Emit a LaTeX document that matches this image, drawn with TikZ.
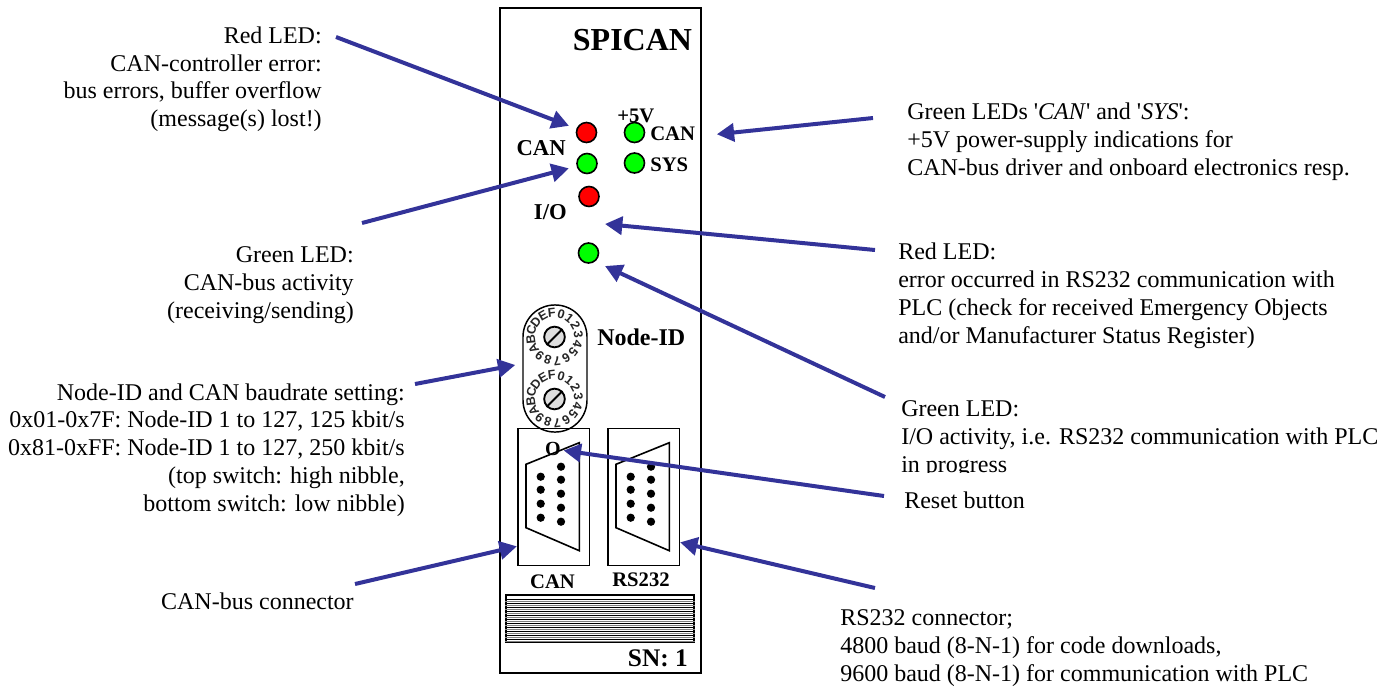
\documentclass[tikz,border=0pt]{standalone}
\usepackage{fontspec}
\setmainfont{Liberation Serif}[Ligatures=TeXOff]
\newfontfamily\dialfont{Liberation Sans}
\usetikzlibrary{arrows.meta}
\definecolor{arrowblue}{HTML}{333399}
\tikzstyle{note} = [inner sep=0pt, font=\fontsize{18}{20.8}\selectfont]
\tikzstyle{noteleft} = [note, anchor=base east, align=right]
\tikzstyle{noteright} = [note, anchor=base west, align=left]
\tikzstyle{label} = [inner sep=0pt, font=\fontsize{15.5}{18}\selectfont\bfseries]
\tikzstyle{led} = [circle, draw=black, line width=1.2pt, minimum size=15pt, inner sep=0pt]
\tikzstyle{screw} = [circle, draw=black, line width=1.4pt, fill=black!13, minimum size=15.5pt, inner sep=0pt]
\tikzstyle{connbox} = [rectangle, draw=black, line width=1.2pt, minimum width=53.7pt, minimum height=103pt, inner sep=0pt]
\tikzstyle{shell} = [line width=1.2pt, line join=miter]
\tikzstyle{pin} = [circle, fill=black, minimum size=6.2pt, inner sep=0pt]
\tikzstyle{dialchar} = [inner sep=0pt, font=\fontsize{9.5}{9.5}\dialfont\bfseries, text=black!85]
\tikzstyle{arrow} = [draw=arrowblue, line width=3pt, -{Triangle[length=13pt,width=13.5pt]}]

\begin{document}
\begin{tikzpicture}[x=0.75pt, y=-0.75pt]
    \useasboundingbox (0,0) rectangle (1397,687);
    \node(module)[rectangle, draw=black, line width=1.5pt, minimum width=150.4pt, minimum height=498.3pt, inner sep=0pt] at (600.3,340.5) {};
    \node(spican)[label, font=\fontsize{24}{24}\selectfont\bfseries] at (632.5,40) {SPICAN};
    \node(serial)[label, font=\fontsize{19}{19}\selectfont\bfseries, anchor=base east] at (688,666) {SN: 1};
    %
    \node(ledcanred)[led, fill=red] at (586.5,132.5) {};
    \node(ledcangreen)[led, fill=green] at (587,163.5) {};
    \node(ledioread)[led, fill=red] at (589,196.5) {};
    \node(ledioact)[led, fill=green] at (588.5,253) {};
    \node(ledpowcan)[led, fill=green] at (634.5,132.5) {};
    \node(ledpowsys)[led, fill=green] at (634.5,163) {};
    \node(powerlabel)[label, anchor=base west] at (617,122) {+5V};
    \node(canpow)[label, anchor=base west] at (650,140) {CAN};
    \node(syspow)[label, anchor=base west] at (650,171) {SYS};
    \node(canlabel)[label, font=\fontsize{17}{17}\selectfont\bfseries, anchor=base east] at (566,155) {CAN};
    \node(iolabel)[label, font=\fontsize{17}{17}\selectfont\bfseries, anchor=base east] at (567,219) {I/O};
    %
    \node(capsule)[rectangle, draw=black, line width=1.1pt, rounded corners=23.9pt, minimum width=48pt, minimum height=95.3pt, inner sep=0pt] at (555,368.5) {};
    \foreach \name/\y in {dialtop/337, dialbot/399} {
        \node(\name)[screw] at (554.5,\y) {};
        \draw [line width=1.4pt] (\name.225)--(\name.45);
        \foreach \ch [count=\i from 0] in {0,1,2,3,4,5,6,7,8,9,A,B,C,D,E,F} {
            \pgfmathsetmacro{\ang}{16+22.5*\i}
            \node(\name\i)[dialchar, rotate=-\ang] at ([shift={(90-\ang:18pt)}]\name.center) {\ch};
        }
    }
    \node(nodeid)[label, font=\fontsize{18}{18}\selectfont\bfseries, anchor=base west] at (597,345) {Node-ID};
    %
    \node(canbox)[connbox] at (553.5,497) {};
    \node(rsbox)[connbox] at (643.5,497) {};
    \draw [shell] (526,464.3)--(579.3,442.7)--(579.3,550.7)--(526,527.7)--cycle;
    \draw [shell] (616,464.3)--(669.3,442.7)--(669.3,550.7)--(616,527.7)--cycle;
    \foreach \x/\name in {0/can, 90/rs} {
        \foreach \y [count=\i] in {476.7,489.7,503.7,517.7}
            \node(\name left\i)[pin] at (540.7+\x,\y) {};
        \foreach \y [count=\i] in {466.7,479.7,493.7,507.7,521.7}
            \node(\name right\i)[pin] at (561+\x,\y) {};
    }
    \node(reset)[label, font=\fontsize{15}{15}\selectfont\bfseries] at (553,449) {O};
    \node(canname)[label, anchor=base] at (552.5,588) {CAN};
    \node(rsname)[label, anchor=base] at (641,586) {RS232};
    %
    \node(vent)[rectangle, draw=black, line width=1.6pt, fill=white, minimum width=141.5pt, minimum height=35pt, inner sep=0pt] at (600,618.3) {};
    \foreach \y in {599.5,603.5,...,639.5} {
        \draw [line width=1pt] (vent.west |- 0,\y)--(vent.east |- 0,\y);
        \draw [line width=0.9pt, black!50] (vent.west |- 0,\y+2)--(vent.east |- 0,\y+2);
    }
    %
    \node(redcannote)[noteleft] at (322,126.5) {Red LED:\\CAN-controller error:\\bus errors, buffer overflow\\(message(s) lost!)};
    \node(greencannote)[noteleft] at (354,318) {Green LED:\\CAN-bus activity\\(receiving/sending)};
    \node(dialnote)[noteleft] at (405,511) {Node-ID and CAN baudrate setting:\\0x01-0x7F: Node-ID 1 to 127, 125 kbit/s\\0x81-0xFF: Node-ID 1 to 127, 250 kbit/s\\(top switch: high nibble,\\bottom switch: low nibble)};
    \node(canconnnote)[noteleft] at (354,609) {CAN-bus connector};
    \node(powernote)[noteright] at (907,175) {Green LEDs '\textit{CAN}' and '\textit{SYS}':\\+5V power-supply indications for\\CAN-bus driver and onboard electronics resp.};
    \node(redionote)[noteright] at (898,343) {Red LED:\\error occurred in RS232 communication with\\PLC (check for received Emergency Objects\\and/or Manufacturer Status Register)};
    \node(greenionote)[noteright] at (901,472) {Green LED:\\I/O activity, i.e. RS232 communication with PLC\\in progress};
    \path [fill=white] (900,472.5) rectangle (1010,482);
    \node(resetnote)[noteright] at (904,508) {Reset button};
    \node(rsconnnote)[noteright] at (840,681) {RS232 connector;\\4800 baud (8-N-1) for code downloads,\\9600 baud (8-N-1) for communication with PLC};
    %
    \coordinate (redcanfrom) at (336,37);
    \coordinate (greencanfrom) at (362,223);
    \coordinate (powerfrom) at (873,118);
    \coordinate (powerto) at ([shift={(21.5,1)}]canpow.east);
    \coordinate (rediofrom) at (875,250);
    \coordinate (redioto) at ([shift={(16,27.5)}]ledioread.center);
    \coordinate (greeniofrom) at (885,397);
    \coordinate (greenioto) at ([shift={(16.5,13)}]ledioact.center);
    \coordinate (dialfrom) at (415,384);
    \coordinate (dialto) at ([shift={(-7,-3.5)}]capsule.west);
    \coordinate (resetfrom) at (884,496);
    \coordinate (canconnfrom) at (355,584);
    \coordinate (canconnto) at ([yshift=-37pt]canbox.west);
    \coordinate (rsconnfrom) at (875,588);
    \coordinate (rsconnto) at ([yshift=-34pt]rsbox.east);
    \draw [arrow, shorten >=6pt] (redcanfrom)--(ledcanred);
    \draw [arrow, shorten >=6pt] (greencanfrom)--(ledcangreen);
    \draw [arrow] (powerfrom)--(powerto);
    \draw [arrow] (rediofrom)--(redioto);
    \draw [arrow] (greeniofrom)--(greenioto);
    \draw [arrow] (dialfrom)--(dialto);
    \draw [arrow, shorten >=2pt] (resetfrom)--(reset);
    \draw [arrow] (canconnfrom)--(canconnto);
    \draw [arrow] (rsconnfrom)--(rsconnto);
\end{tikzpicture}
\end{document}
